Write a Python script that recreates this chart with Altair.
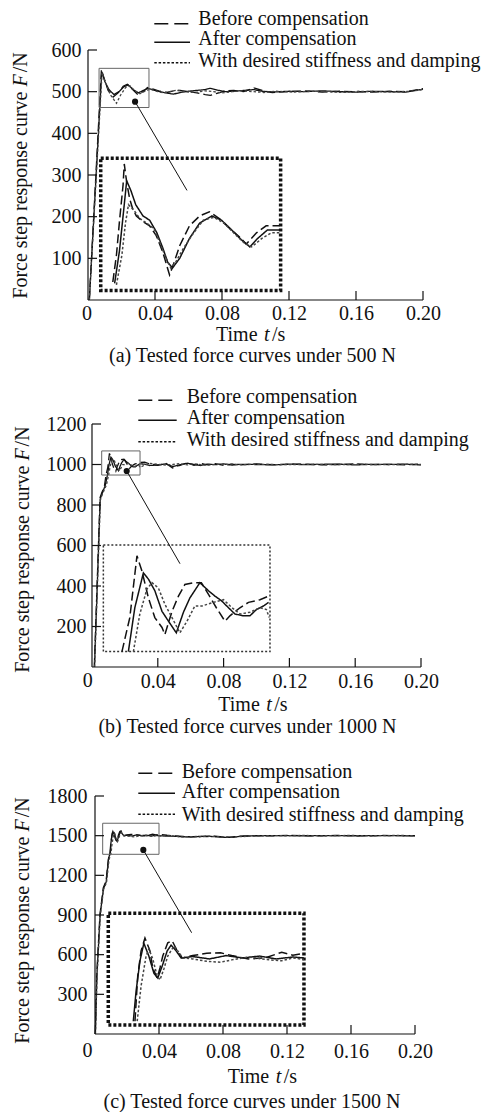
import altair as alt
import pandas as pd

FONT = "Liberation Serif"
INK = "#111111"
BOX_GREY = "#666666"
SERIES = ["Before compensation", "After compensation", "With desired stiffness and damping"]
CURVE_DASH = [[9, 4], [1, 0], [2.5, 2]]
CURVE_COLOR = [INK, INK, "#444444"]
LEGEND_DASH = [[14, 6], None, [2.5, 1.8]]
X_TICKS = [0.04, 0.08, 0.12, 0.16, 0.20]

# ---------------- (a) 500 N ----------------
A_BEFORE = [(0.0008, 0), (0.0080, 553), (0.0098, 530), (0.0120, 503), (0.0150, 487), (0.0180, 497),
            (0.0210, 513), (0.0235, 518), (0.0265, 506), (0.0295, 494), (0.0330, 500), (0.0355, 510),
            (0.0390, 506), (0.0430, 501), (0.0470, 498), (0.0510, 502), (0.0550, 503), (0.0600, 500),
            (0.0650, 497), (0.0700, 493), (0.0730, 491), (0.0770, 496), (0.0820, 502), (0.0870, 503),
            (0.0930, 500), (0.0990, 509), (0.1040, 503), (0.1100, 498), (0.1200, 500), (0.1300, 502),
            (0.1400, 499), (0.1500, 501), (0.1600, 500), (0.1700, 499), (0.1800, 501), (0.1900, 500),
            (0.2000, 507)]
A_AFTER = [(0.0008, 0), (0.0082, 548), (0.0100, 525), (0.0125, 505), (0.0155, 493), (0.0185, 500),
           (0.0215, 512), (0.0240, 516), (0.0270, 505), (0.0300, 497), (0.0330, 503), (0.0360, 508),
           (0.0400, 503), (0.0440, 499), (0.0480, 496), (0.0510, 494), (0.0550, 498), (0.0600, 501),
           (0.0650, 503), (0.0700, 505), (0.0730, 508), (0.0770, 504), (0.0820, 500), (0.0870, 501),
           (0.0930, 503), (0.0990, 505), (0.1040, 501), (0.1100, 499), (0.1200, 501), (0.1300, 500),
           (0.1400, 502), (0.1500, 500), (0.1600, 499), (0.1700, 501), (0.1800, 500), (0.1900, 499),
           (0.2000, 506)]
A_DESIRED = [(0.0008, 0), (0.0084, 546), (0.0105, 520), (0.0135, 492), (0.0170, 472), (0.0195, 492),
             (0.0225, 510), (0.0250, 514), (0.0280, 502), (0.0310, 495), (0.0340, 501), (0.0370, 506),
             (0.0410, 501), (0.0450, 497), (0.0490, 500), (0.0530, 504), (0.0580, 500), (0.0640, 498),
             (0.0700, 502), (0.0750, 500), (0.0800, 497), (0.0860, 500), (0.0920, 502), (0.0990, 500),
             (0.1050, 498), (0.1120, 501), (0.1220, 499), (0.1320, 501), (0.1420, 500), (0.1520, 498),
             (0.1620, 501), (0.1720, 500), (0.1820, 499), (0.1920, 501), (0.2000, 505)]
# magnified early response (a)
A_ZOOM_BEFORE = [(0.0086, 468), (0.0092, 487), (0.0097, 511), (0.0103, 537), (0.0105, 552), (0.0109, 539),
                 (0.0114, 527), (0.0119, 520), (0.0125, 515), (0.0136, 511), (0.0147, 508), (0.0158, 501),
                 (0.0169, 489), (0.0180, 473), (0.0186, 480), (0.0197, 494), (0.0213, 508), (0.0230, 515),
                 (0.0246, 518), (0.0263, 513), (0.0280, 506), (0.0296, 500), (0.0307, 495), (0.0324, 503),
                 (0.0340, 508), (0.0362, 508)]
A_ZOOM_AFTER = [(0.0089, 467), (0.0097, 490), (0.0104, 519), (0.0109, 540), (0.0116, 533), (0.0124, 523),
                (0.0136, 515), (0.0147, 512), (0.0159, 503), (0.0169, 492), (0.0177, 482), (0.0185, 478),
                (0.0197, 485), (0.0213, 499), (0.0230, 510), (0.0250, 515), (0.0266, 512), (0.0283, 505),
                (0.0299, 498), (0.0313, 493), (0.0326, 499), (0.0342, 505), (0.0362, 505)]
A_ZOOM_DESIRED = [(0.0092, 466), (0.0101, 487), (0.0107, 510), (0.0112, 523), (0.0121, 519), (0.0131, 513),
                  (0.0142, 510), (0.0154, 506), (0.0164, 496), (0.0174, 485), (0.0182, 478), (0.0190, 482),
                  (0.0203, 492), (0.0220, 503), (0.0236, 512), (0.0253, 514), (0.0270, 510), (0.0286, 503),
                  (0.0303, 496), (0.0316, 493), (0.0333, 499), (0.0349, 503), (0.0362, 503)]

# ---------------- (b) 1000 N ----------------
B_BEFORE_RISE = [(0.0014, 0), (0.0038, 573), (0.0049, 836), (0.0060, 862), (0.0075, 890)]
B_AFTER_RISE = [(0.0015, 0), (0.0039, 570), (0.0050, 830), (0.0062, 858), (0.0080, 895)]
B_DESIRED_RISE = [(0.0016, 0), (0.0040, 565), (0.0051, 825), (0.0064, 855), (0.0088, 900)]
B_ZOOM_BEFORE = [(0.0085, 948), (0.0096, 986), (0.0106, 1055), (0.0113, 1038), (0.0122, 1008), (0.0131, 986),
                 (0.0141, 975), (0.0145, 967), (0.0155, 993), (0.0164, 1010), (0.0173, 1023), (0.0185, 1025),
                 (0.0196, 1025), (0.0206, 1012), (0.0217, 997), (0.0229, 982), (0.0236, 988), (0.0250, 997),
                 (0.0262, 1003), (0.0278, 1006), (0.0290, 1010)]
B_ZOOM_AFTER = [(0.0094, 948), (0.0103, 997), (0.0115, 1036), (0.0122, 1029), (0.0131, 1016), (0.0141, 993),
                (0.0150, 982), (0.0161, 969), (0.0171, 992), (0.0180, 1008), (0.0194, 1025), (0.0206, 1016),
                (0.0215, 1010), (0.0224, 1005), (0.0234, 997), (0.0243, 990), (0.0255, 988), (0.0264, 988),
                (0.0273, 995), (0.0283, 999), (0.0290, 1003)]
B_ZOOM_DESIRED = [(0.0101, 948), (0.0110, 990), (0.0120, 1018), (0.0127, 1025), (0.0136, 1019), (0.0145, 1001),
                  (0.0155, 986), (0.0166, 969), (0.0176, 982), (0.0187, 999), (0.0197, 999), (0.0213, 1003),
                  (0.0227, 1006), (0.0239, 997), (0.0250, 990), (0.0264, 992), (0.0278, 997), (0.0287, 995),
                  (0.0291, 986)]
B_BEFORE_TAIL = [(0.032, 1012), (0.035, 1003), (0.040, 996), (0.045, 1005), (0.049, 983), (0.053, 995),
                 (0.058, 1008), (0.062, 996), (0.066, 1006), (0.070, 998), (0.075, 1004), (0.080, 996),
                 (0.085, 1002), (0.090, 998), (0.100, 1003), (0.110, 999), (0.120, 1001), (0.130, 1002),
                 (0.140, 998), (0.150, 1000), (0.160, 1003), (0.170, 999), (0.180, 1001), (0.190, 998),
                 (0.200, 1002)]
B_AFTER_TAIL = [(0.032, 1002), (0.035, 995), (0.040, 998), (0.045, 1003), (0.049, 990), (0.053, 998),
                (0.058, 1006), (0.062, 1000), (0.066, 995), (0.070, 1002), (0.075, 999), (0.080, 1003),
                (0.085, 997), (0.090, 1001), (0.100, 1000), (0.110, 998), (0.120, 1002), (0.130, 999),
                (0.140, 1001), (0.150, 1002), (0.160, 998), (0.170, 1001), (0.180, 1000), (0.190, 1002),
                (0.200, 998)]
B_DESIRED_TAIL = [(0.032, 997), (0.035, 1006), (0.040, 1001), (0.045, 997), (0.049, 1000), (0.053, 1004),
                  (0.058, 998), (0.062, 1004), (0.066, 999), (0.070, 996), (0.075, 1001), (0.080, 1000),
                  (0.085, 1002), (0.090, 999), (0.100, 1001), (0.110, 1000), (0.120, 999), (0.130, 1001),
                  (0.140, 1000), (0.150, 999), (0.160, 1001), (0.170, 1000), (0.180, 999), (0.190, 1001),
                  (0.200, 1000)]

# ---------------- (c) 1500 N ----------------
C_BEFORE_RISE = [(0.0002, 0), (0.0011, 451), (0.0031, 905), (0.0052, 1107), (0.0069, 1157), (0.0085, 1330)]
C_AFTER_RISE = [(0.0002, 0), (0.0012, 445), (0.0032, 900), (0.0053, 1100), (0.0070, 1150), (0.0084, 1320)]
C_DESIRED_RISE = [(0.0003, 0), (0.0013, 440), (0.0033, 895), (0.0054, 1095), (0.0072, 1145), (0.0088, 1320)]
C_ZOOM_BEFORE = [(0.0096, 1367), (0.0101, 1462), (0.0107, 1515), (0.0114, 1542), (0.0123, 1515), (0.0128, 1479),
                 (0.0136, 1458), (0.0141, 1479), (0.0146, 1504), (0.0155, 1532), (0.0163, 1536), (0.0172, 1515),
                 (0.0181, 1500), (0.0200, 1505), (0.0225, 1510), (0.0250, 1511), (0.0270, 1505), (0.0300, 1498),
                 (0.0330, 1500), (0.0360, 1512), (0.0380, 1506), (0.0400, 1510)]
C_ZOOM_AFTER = [(0.0093, 1367), (0.0098, 1430), (0.0105, 1494), (0.0112, 1531), (0.0121, 1504), (0.0130, 1468),
                (0.0137, 1458), (0.0145, 1483), (0.0154, 1515), (0.0161, 1527), (0.0170, 1515), (0.0179, 1500),
                (0.0200, 1503), (0.0230, 1498), (0.0260, 1505), (0.0290, 1500), (0.0320, 1504), (0.0350, 1498),
                (0.0380, 1502), (0.0400, 1500)]
C_ZOOM_DESIRED = [(0.0100, 1367), (0.0107, 1441), (0.0116, 1504), (0.0121, 1519), (0.0128, 1498), (0.0136, 1462),
                  (0.0141, 1454), (0.0148, 1477), (0.0155, 1504), (0.0166, 1525), (0.0173, 1515), (0.0182, 1500),
                  (0.0200, 1498), (0.0225, 1493), (0.0250, 1491), (0.0270, 1496), (0.0300, 1502), (0.0330, 1497),
                  (0.0360, 1494), (0.0380, 1500), (0.0400, 1497)]
C_BEFORE_TAIL = [(0.045, 1503), (0.050, 1498), (0.055, 1494), (0.060, 1491), (0.065, 1496), (0.070, 1493),
                 (0.075, 1496), (0.080, 1490), (0.085, 1488), (0.090, 1496), (0.100, 1501), (0.110, 1498),
                 (0.120, 1502), (0.130, 1500), (0.140, 1498), (0.150, 1502), (0.160, 1500), (0.170, 1498),
                 (0.180, 1502), (0.190, 1500), (0.200, 1501)]
C_AFTER_TAIL = [(0.045, 1497), (0.050, 1495), (0.055, 1492), (0.060, 1490), (0.065, 1494), (0.070, 1496),
                (0.075, 1492), (0.080, 1488), (0.085, 1487), (0.090, 1494), (0.095, 1497), (0.100, 1499),
                (0.110, 1500), (0.120, 1501), (0.130, 1499), (0.140, 1500), (0.150, 1501), (0.160, 1499),
                (0.170, 1500), (0.180, 1501), (0.190, 1500), (0.200, 1498)]
C_DESIRED_TAIL = [(0.045, 1500), (0.050, 1496), (0.055, 1490), (0.060, 1493), (0.065, 1490), (0.070, 1497),
                  (0.075, 1494), (0.080, 1491), (0.085, 1489), (0.090, 1492), (0.100, 1498), (0.110, 1501),
                  (0.120, 1499), (0.130, 1502), (0.140, 1499), (0.150, 1500), (0.160, 1502), (0.170, 1499),
                  (0.180, 1500), (0.190, 1502), (0.200, 1499)]

PANELS = [
    dict(caption="(a) Tested force curves under 500 N",
         main=[A_BEFORE, A_AFTER, A_DESIRED],
         zoom=[A_ZOOM_BEFORE, A_ZOOM_AFTER, A_ZOOM_DESIRED],
         box=[0.0066, 0.0364, 462, 556], inset=[0.0076, 0.1150, 23, 340],
         callout=[0.0281, 476, 0.0591, 263],
         frame=dict(stroke=INK, strokeWidth=3.5, strokeDash=[3, 2]),
         ymax=600, yticks=[100, 200, 300, 400, 500, 600],
         width=335, height=250, x0=0.0, ax_px=0, top=49.5, bottom=78.5,
         ylab_pad=7, xlab_base=19.8, zero_x=-1,
         leg_x=(66.3, 102, 110.3), leg_base=[-25.0, -5.2, 17.2], leg_line=[-26.2, -7.8, 12.8],
         ytitle=(-67, 125.2), xtitle=(128, 290.5), cap=(164.5, 312.2)),
    dict(caption="(b) Tested force curves under 1000 N",
         main=[B_BEFORE_RISE + B_ZOOM_BEFORE + B_BEFORE_TAIL,
               B_AFTER_RISE + B_ZOOM_AFTER + B_AFTER_TAIL,
               B_DESIRED_RISE + B_ZOOM_DESIRED + B_DESIRED_TAIL],
         zoom=[B_ZOOM_BEFORE, B_ZOOM_AFTER, B_ZOOM_DESIRED],
         box=[0.0059, 0.0292, 948, 1067], inset=[0.0069, 0.1082, 76, 602],
         callout=[0.0211, 968, 0.0535, 510],
         frame=dict(stroke="#333333", strokeWidth=1.5, strokeDash=[2, 2]),
         ymax=1200, yticks=[200, 400, 600, 800, 1000, 1200],
         width=333, height=243, x0=-0.00243, ax_px=4, top=45, bottom=84,
         ylab_pad=2, xlab_base=20, zero_x=-0.3,
         leg_x=(50.3, 88.7, 98.7), leg_base=[-20.7, -0.3, 22.0], leg_line=[-23.7, -3.7, 17.7],
         ytitle=(-64.7, 125.3), xtitle=(130.3, 287), cap=(159.5, 308.7)),
    dict(caption="(c) Tested force curves under 1500 N",
         main=[C_BEFORE_RISE + C_ZOOM_BEFORE + C_BEFORE_TAIL,
               C_AFTER_RISE + C_ZOOM_AFTER + C_AFTER_TAIL,
               C_DESIRED_RISE + C_ZOOM_DESIRED + C_DESIRED_TAIL],
         zoom=[C_ZOOM_BEFORE, C_ZOOM_AFTER, C_ZOOM_DESIRED],
         box=[0.0048, 0.0400, 1359, 1594], inset=[0.0083, 0.1306, 68, 913],
         callout=[0.0302, 1392, 0.0604, 766],
         frame=dict(stroke=INK, strokeWidth=3.5, strokeDash=[3, 2]),
         ymax=1800, yticks=[300, 600, 900, 1200, 1500, 1800],
         width=327, height=238, x0=-0.004375, ax_px=7, top=45, bottom=76,
         ylab_pad=1, xlab_base=23.4, zero_x=-0.5,
         leg_x=(50.3, 87, 93.7), leg_base=[-18.3, 2.3, 25.0], leg_line=[-22.7, -2.7, 18.3],
         ytitle=(-65.3, 124.2), xtitle=(139.7, 286.7), cap=(164, 311.7)),
]

LEFT_MARGIN = 88


def curve_frame(curves):
    rows = []
    for name, pts in zip(SERIES, curves):
        for i, (t, f) in enumerate(pts):
            rows.append({"t": t, "F": f, "series": name, "i": i})
    return pd.DataFrame(rows)


def magnify(pts, box, inset):
    bx0, bx1, by0, by1 = box
    ix0, ix1, iy0, iy1 = inset
    out = []
    for t, f in pts:
        if bx0 <= t <= bx1 and by0 <= f <= by1:
            out.append((ix0 + (t - bx0) / (bx1 - bx0) * (ix1 - ix0),
                        iy0 + (f - by0) / (by1 - by0) * (iy1 - iy0)))
    return out


def text_at(txt, x, y, **kw):
    style = dict(font=FONT, fontSize=20, color=INK, align="left", baseline="alphabetic")
    style.update(kw)
    return alt.Chart(pd.DataFrame({"label": [txt]})).mark_text(**style).encode(
        x=alt.value(x), y=alt.value(y), text="label:N")


def panel(p):
    w, h = p["width"], p["height"]
    xs = alt.Scale(domain=[p["x0"], 0.2], nice=False, zero=False)
    ys = alt.Scale(domain=[0, p["ymax"]], nice=False)
    x_axis = alt.Axis(values=X_TICKS, labelExpr="format(datum.value, '.2f')", domain=False, ticks=False,
                      tickSize=0, grid=False, labelFont=FONT, labelFontSize=20, labelColor=INK,
                      labelPadding=p["xlab_base"], labelBaseline="alphabetic", labelFlush=False,
                      labelOverlap=False, title=None)
    y_axis = alt.Axis(values=p["yticks"], format="d", domain=False, ticks=False, tickSize=0, grid=False,
                      labelFont=FONT, labelFontSize=20, labelColor=INK, labelPadding=p["ylab_pad"],
                      labelOverlap=False, title=None)

    def X(field):
        return alt.X(field, scale=xs, axis=x_axis)

    def Y(field):
        return alt.Y(field, scale=ys, axis=y_axis)

    dash = alt.StrokeDash("series:N", scale=alt.Scale(domain=SERIES, range=CURVE_DASH), legend=None)
    color = alt.Color("series:N", scale=alt.Scale(domain=SERIES, range=CURVE_COLOR), legend=None)

    main = alt.Chart(curve_frame(p["main"])).mark_line(strokeWidth=1.3).encode(
        x=X("t:Q"), y=Y("F:Q"), strokeDash=dash, color=color, order="i:Q", detail="series:N")

    zoomed = [magnify(z, p["box"], p["inset"]) for z in p["zoom"]]
    inset_lines = alt.Chart(curve_frame(zoomed)).mark_line(strokeWidth=1.5).encode(
        x=X("t:Q"), y=Y("F:Q"), strokeDash=dash, color=color, order="i:Q", detail="series:N")

    def rect_layer(r, **style):
        df = pd.DataFrame([{"x0": r[0], "x1": r[1], "y0": r[2], "y1": r[3]}])
        return alt.Chart(df).mark_rect(fillOpacity=0, **style).encode(
            x=X("x0:Q"), x2="x1", y=Y("y0:Q"), y2="y1")

    box = rect_layer(p["box"], stroke=BOX_GREY, strokeWidth=1)
    frame = rect_layer(p["inset"], **p["frame"])

    c = p["callout"]
    cdf = pd.DataFrame([{"x0": c[0], "y0": c[1], "x1": c[2], "y1": c[3]}])
    callout = alt.Chart(cdf).mark_rule(color=INK, strokeWidth=1).encode(
        x=X("x0:Q"), x2="x1", y=Y("y0:Q"), y2="y1")
    dot = alt.Chart(cdf).mark_circle(color=INK, opacity=1, size=38).encode(x=X("x0:Q"), y=Y("y0:Q"))

    adf = pd.DataFrame([{"x0": 0.0, "x1": 0.0, "y0": 0, "y1": p["ymax"]},
                        {"x0": 0.0, "x1": 0.2, "y0": 0, "y1": 0}])
    axes = alt.Chart(adf).mark_rule(color=INK, strokeWidth=1.2).encode(
        x=X("x0:Q"), x2="x1", y=Y("y0:Q"), y2="y1")
    yt = alt.Chart(pd.DataFrame({"v": p["yticks"]})).mark_rule(color=INK, strokeWidth=1.2).encode(
        y=Y("v:Q"), x=alt.value(p["ax_px"]), x2=alt.value(p["ax_px"] + 9))
    xt = alt.Chart(pd.DataFrame({"v": X_TICKS})).mark_rule(color=INK, strokeWidth=1.2).encode(
        x=X("v:Q"), y=alt.value(h), y2=alt.value(h - 9))
    zero_lbl = text_at("0", p["zero_x"], h + p["xlab_base"], align="center")

    legend = []
    lx0, lx1, tx = p["leg_x"]
    for name, d, base, ly in zip(SERIES, LEGEND_DASH, p["leg_base"], p["leg_line"]):
        style = dict(color=INK, strokeWidth=1.6)
        if d:
            style["strokeDash"] = d
        legend.append(alt.Chart(pd.DataFrame({"label": [name]})).mark_rule(**style).encode(
            x=alt.value(lx0), x2=alt.value(lx1), y=alt.value(ly)))
        legend.append(text_at(name, tx, base))

    # rotated y title with italic F
    yx, yc = p["ytitle"]
    ytitle = [text_at("Force step response curve", yx, yc + 123.5, angle=270, baseline="middle"),
              text_at("F", yx, yc - 88.7, angle=270, baseline="middle", fontStyle="italic"),
              text_at("/N", yx, yc - 102.9, angle=270, baseline="middle")]
    xs0, xb = p["xtitle"]
    xtitle = [text_at("Time", xs0, xb),
              text_at("t", xs0 + 48, xb, fontStyle="italic"),
              text_at("/s", xs0 + 56, xb)]
    cap = text_at(p["caption"], p["cap"][0], p["cap"][1], align="center")

    spacer = alt.Chart(pd.DataFrame({"s": [0]})).mark_rule(opacity=0, strokeWidth=0.01).encode(
        x=alt.value(-LEFT_MARGIN), x2=alt.value(0),
        y=alt.value(-p["top"]), y2=alt.value(h + p["bottom"]))

    return alt.layer(main, box, frame, inset_lines, callout, dot, axes, yt, xt, zero_lbl,
                     *legend, *ytitle, *xtitle, cap, spacer).properties(width=w, height=h)


chart = alt.vconcat(*[panel(p) for p in PANELS], spacing=0).properties(
    padding={"left": 0, "top": 0, "right": 0, "bottom": 0}
).configure(font=FONT).configure_view(stroke=None)

chart.save("out.html", embed_options={"renderer": "svg", "actions": False})
